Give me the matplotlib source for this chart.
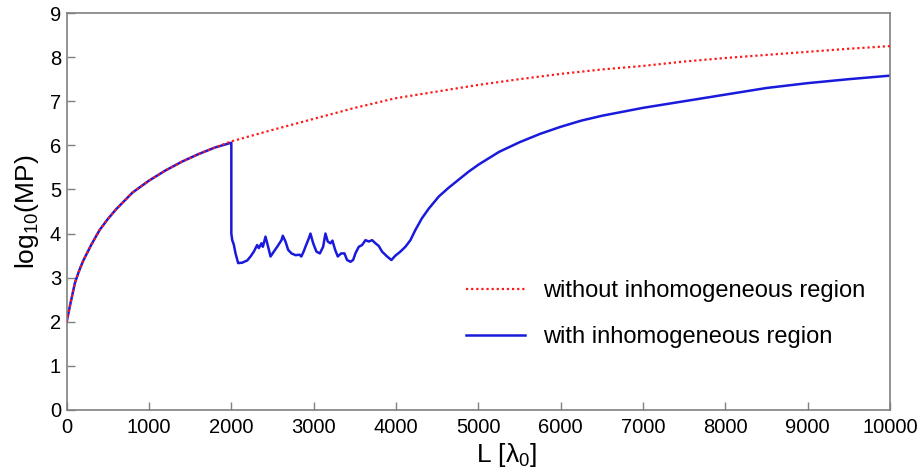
import matplotlib
matplotlib.use("Agg")
import matplotlib.pyplot as plt

plt.rcParams['font.family'] = ['Liberation Sans', 'DejaVu Sans']
plt.rcParams['mathtext.fontset'] = 'custom'
plt.rcParams['mathtext.rm'] = 'Liberation Sans'
plt.rcParams['mathtext.it'] = 'Liberation Sans'

# Data
L_red = [0, 50, 100, 150, 200, 300, 400, 500, 600, 800, 1000, 1200, 1400, 1600,
         1800, 2000, 2500, 3000, 3500, 4000, 4500, 5000, 5500, 6000, 6500, 7000,
         7500, 8000, 8500, 9000, 9500, 10000]
v_red = [2.0, 2.45, 2.88, 3.15, 3.38, 3.75, 4.08, 4.33, 4.55, 4.93, 5.2, 5.43,
         5.63, 5.8, 5.95, 6.09, 6.35, 6.6, 6.85, 7.07, 7.22, 7.37, 7.5, 7.62,
         7.72, 7.8, 7.9, 7.98, 8.05, 8.12, 8.19, 8.25]

L_blue = [0, 50, 100, 150, 200, 300, 400, 500, 600, 800, 1000, 1200, 1400, 1600,
          1800, 2000, 2000, 2011, 2030, 2051, 2083, 2132, 2193, 2233, 2273, 2314,
          2334, 2366, 2383, 2415, 2447, 2476, 2516, 2557, 2609, 2625, 2658, 2690,
          2731, 2779, 2828, 2850, 2880, 2900, 2941, 2961, 2994, 3034, 3075, 3115,
          3143, 3171, 3204, 3228, 3261, 3293, 3334, 3374, 3406, 3447, 3479, 3507,
          3548, 3588, 3629, 3669, 3710, 3750, 3790, 3831, 3892, 3944, 3993, 4053,
          4114, 4175, 4235, 4316, 4400, 4520, 4640, 4760, 4880, 5000, 5250, 5500,
          5750, 6000, 6250, 6500, 6750, 7000, 7500, 8000, 8500, 9000, 9500, 10000]
v_blue = [2.0, 2.45, 2.88, 3.15, 3.38, 3.75, 4.08, 4.33, 4.55, 4.93, 5.2, 5.43,
          5.63, 5.8, 5.95, 6.06, 4.0, 3.85, 3.75, 3.55, 3.33, 3.34, 3.39, 3.48,
          3.59, 3.74, 3.67, 3.78, 3.70, 3.93, 3.70, 3.48, 3.59, 3.70, 3.85, 3.95,
          3.82, 3.63, 3.55, 3.51, 3.52, 3.48, 3.60, 3.70, 3.89, 4.0, 3.78, 3.59,
          3.55, 3.70, 4.0, 3.82, 3.78, 3.84, 3.63, 3.48, 3.55, 3.55, 3.40, 3.36,
          3.40, 3.55, 3.70, 3.74, 3.85, 3.82, 3.85, 3.78, 3.72, 3.59, 3.48, 3.40,
          3.50, 3.59, 3.70, 3.85, 4.08, 4.35, 4.57, 4.84, 5.04, 5.22, 5.40, 5.56,
          5.85, 6.07, 6.26, 6.42, 6.56, 6.67, 6.76, 6.85, 7.0, 7.15, 7.3, 7.41,
          7.5, 7.58]

x_ticks = [0, 1000, 2000, 3000, 4000, 5000, 6000, 7000, 8000, 9000, 10000]
y_ticks = [0, 1, 2, 3, 4, 5, 6, 7, 8, 9]
label_red = "without inhomogeneous region"
label_blue = "with inhomogeneous region"

fig = plt.figure(figsize=(9.22, 4.73), dpi=100)
ax = fig.add_axes([0.0723, 0.1332, 0.9653 - 0.0723, 0.9725 - 0.1332])

ax.plot(L_red, v_red, color='#ff1a1a', linestyle=(0, (1, 1.3)), linewidth=1.6,
        label=label_red, zorder=3)
ax.plot(L_blue, v_blue, color='#1a1adc', linewidth=1.8, label=label_blue, zorder=2)

ax.set_xlim(0, 10000)
ax.set_ylim(0, 9)
ax.set_xticks(x_ticks)
ax.set_yticks(y_ticks)
ax.tick_params(direction='in', length=6, width=1, color='#808080',
               labelsize=14.5, pad=4)
ax.tick_params(axis='x', pad=6)
for s in ax.spines.values():
    s.set_color('#808080')
    s.set_linewidth(1.2)

ax.set_xlabel(r'L [$\lambda_0$]', fontsize=19)
ax.xaxis.set_label_coords(0.534, -0.078)
ax.set_ylabel(r'log$_{10}$(MP)', fontsize=19)
ax.yaxis.set_label_coords(-0.031, 0.5)

leg = ax.legend(loc='upper left', bbox_to_anchor=(0.485, 0.327), frameon=False,
                fontsize=17, handlelength=2.5, handletextpad=0.75,
                labelspacing=1.0, borderpad=0, borderaxespad=0)

fig.savefig('out.png', dpi=100)
